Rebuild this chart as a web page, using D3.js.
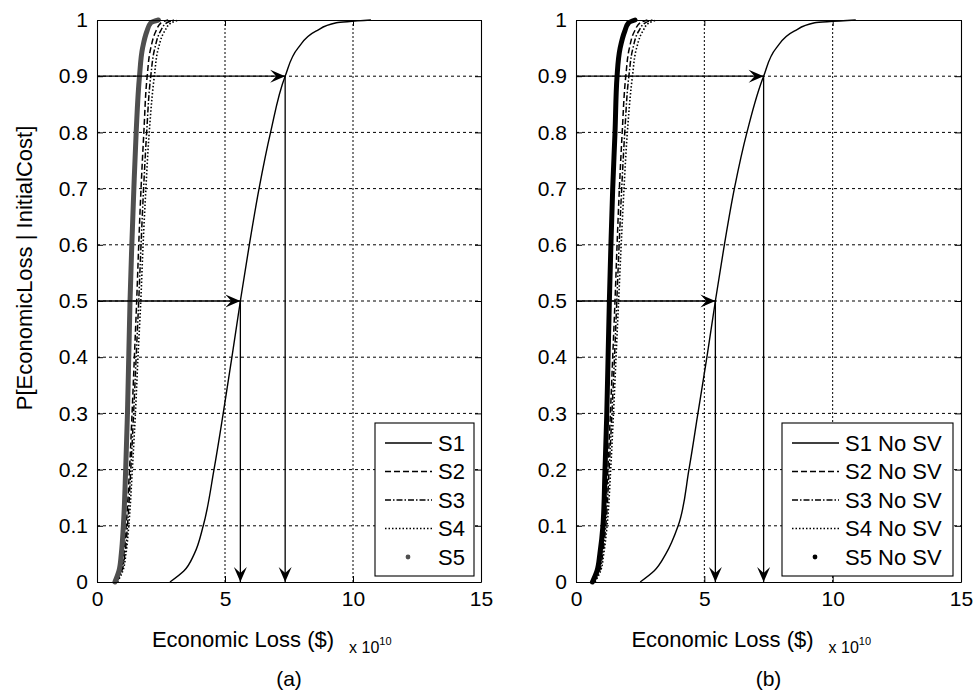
<!DOCTYPE html>
<html>
<head>
<meta charset="utf-8">
<script src="https://cdn.jsdelivr.net/npm/d3@7"></script>
<style>
  body { margin: 0; background: #fff; }
  text { font-family: "Liberation Sans", Arial, sans-serif; fill: #000; }
</style>
</head>
<body>
<svg id="chart" width="975" height="692"></svg>
<script>
// Cumulative probability levels at which each loss curve is sampled
const probLevels = [0, 0.02, 0.05, 0.1, 0.2, 0.3, 0.4, 0.5, 0.6, 0.7, 0.8, 0.9, 0.95, 0.98, 0.995, 1];

// Economic loss (x 10^10 $) reached at each probability level — panel (a)
const lossA_S1 = [2.85, 3.4, 3.8, 4.15, 4.57, 4.93, 5.27, 5.6, 5.95, 6.33, 6.78, 7.35, 7.85, 8.55, 9.35, 10.7];
const lossA_S2 = [0.74, 0.94, 1.05, 1.14, 1.27, 1.37, 1.46, 1.55, 1.63, 1.72, 1.83, 1.96, 2.1, 2.3, 2.5, 2.78];
const lossA_S3 = [0.77, 0.97, 1.09, 1.19, 1.32, 1.43, 1.53, 1.63, 1.72, 1.82, 1.94, 2.1, 2.26, 2.48, 2.72, 3.0];
const lossA_S4 = [0.8, 1.01, 1.13, 1.24, 1.38, 1.5, 1.6, 1.71, 1.8, 1.91, 2.04, 2.24, 2.4, 2.64, 2.9, 3.2];
const lossA_S5 = [0.7, 0.86, 0.95, 1.03, 1.12, 1.19, 1.24, 1.29, 1.36, 1.44, 1.53, 1.66, 1.78, 1.95, 2.1, 2.4];

// Economic loss (x 10^10 $) reached at each probability level — panel (b), no SV
const lossB_S1 = [2.5, 3.05, 3.5, 3.98, 4.4, 4.75, 5.1, 5.43, 5.78, 6.17, 6.66, 7.31, 7.8, 8.5, 9.3, 10.9];
const lossB_S2 = [0.68, 0.88, 1.0, 1.12, 1.24, 1.34, 1.43, 1.52, 1.6, 1.69, 1.8, 1.94, 2.08, 2.28, 2.5, 2.78];
const lossB_S3 = [0.71, 0.92, 1.04, 1.16, 1.29, 1.4, 1.5, 1.59, 1.68, 1.78, 1.9, 2.06, 2.22, 2.44, 2.7, 2.98];
const lossB_S4 = [0.74, 0.96, 1.08, 1.21, 1.35, 1.46, 1.56, 1.66, 1.76, 1.87, 2.0, 2.2, 2.36, 2.6, 2.85, 3.15];
const lossB_S5 = [0.64, 0.82, 0.93, 1.05, 1.13, 1.2, 1.25, 1.3, 1.36, 1.43, 1.52, 1.6, 1.72, 1.9, 2.05, 2.3];

const seriesNamesA = ["S1", "S2", "S3", "S4", "S5"];
const seriesNamesB = ["S1 No SV", "S2 No SV", "S3 No SV", "S4 No SV", "S5 No SV"];

const xTicks = [0, 5, 10, 15];
const xGridValues = [5, 10];
const yTicks = [0, 0.1, 0.2, 0.3, 0.4, 0.5, 0.6, 0.7, 0.8, 0.9, 1];
const yTickLabels = ["0", "0.1", "0.2", "0.3", "0.4", "0.5", "0.6", "0.7", "0.8", "0.9", "1"];
const markedProbs = [0.5, 0.9];

const yAxisTitle = "P[EconomicLoss | InitialCost]";
const xAxisTitle = "Economic Loss ($)";
const panelLabels = ["(a)", "(b)"];

const svg = d3.select("#chart");
svg.append("rect").attr("width", 975).attr("height", 692).attr("fill", "#fff");

// Arrowhead used by the quantile read-off arrows
svg.append("defs").append("marker")
  .attr("id", "arrowHead")
  .attr("viewBox", "-16 -8 18 16")
  .attr("refX", 0).attr("refY", 0)
  .attr("markerWidth", 18).attr("markerHeight", 16)
  .attr("markerUnits", "userSpaceOnUse")
  .attr("orient", "auto")
  .append("path")
  .attr("d", "M0,0 L-15,-6.5 L-9,0 L-15,6.5 Z")
  .attr("fill", "#000");

const styles = [
  { dash: null, width: 1.4 },
  { dash: "6,3", width: 1.5 },
  { dash: "6,2,1.5,2", width: 1.5 },
  { dash: "1.5,2", width: 1.6 },
  { dash: null, width: 5 }
];

const panels = [
  { left: 97, right: 481, series: [lossA_S1, lossA_S2, lossA_S3, lossA_S4, lossA_S5],
    names: seriesNamesA, s5Color: "#4f4f4f", label: panelLabels[0], legendWidth: 99, legendGap: 7, showYTitle: true },
  { left: 576, right: 961, series: [lossB_S1, lossB_S2, lossB_S3, lossB_S4, lossB_S5],
    names: seriesNamesB, s5Color: "#000", label: panelLabels[1], legendWidth: 171, legendGap: 8, showYTitle: false }
];

const plotTop = 20, plotBottom = 582;
const y = d3.scaleLinear().domain([0, 1]).range([plotBottom, plotTop]);
const fontFamily = "Liberation Sans, Arial, sans-serif";

panels.forEach(p => {
  const x = d3.scaleLinear().domain([0, 15]).range([p.left, p.right]);
  const g = svg.append("g");

  // Grid: dashed horizontal lines at every inner y tick, dotted verticals at 5 and 10
  g.append("g").selectAll("line").data(yTicks.filter(v => v > 0 && v < 1)).join("line")
    .attr("x1", p.left).attr("x2", p.right)
    .attr("y1", d => y(d)).attr("y2", d => y(d))
    .attr("stroke", "#000").attr("stroke-width", 1).attr("stroke-dasharray", "3,3");
  g.append("g").selectAll("line").data(xGridValues).join("line")
    .attr("x1", d => x(d)).attr("x2", d => x(d))
    .attr("y1", plotTop).attr("y2", plotBottom)
    .attr("stroke", "#000").attr("stroke-width", 1).attr("stroke-dasharray", "2,2");

  // Loss curves
  const line = d3.line()
    .x(d => x(d[0]))
    .y(d => y(d[1]))
    .curve(d3.curveMonotoneY);
  const order = [1, 2, 3, 0, 4];
  order.forEach(i => {
    const pts = p.series[i].map((v, k) => [v, probLevels[k]]);
    g.append("path")
      .attr("d", line(pts))
      .attr("fill", "none")
      .attr("stroke", i === 4 ? p.s5Color : "#000")
      .attr("stroke-width", styles[i].width)
      .attr("stroke-linecap", i === 4 ? "round" : "butt")
      .attr("stroke-dasharray", styles[i].dash);
  });

  // Read-off arrows for the 50% and 90% quantiles of S1
  markedProbs.forEach(pr => {
    const idx = probLevels.indexOf(pr);
    const q = p.series[0][idx];
    g.append("line")
      .attr("x1", x(0)).attr("y1", y(pr))
      .attr("x2", x(q)).attr("y2", y(pr))
      .attr("stroke", "#000").attr("stroke-width", 1.3)
      .attr("marker-end", "url(#arrowHead)");
    g.append("line")
      .attr("x1", x(q)).attr("y1", y(pr))
      .attr("x2", x(q)).attr("y2", y(0))
      .attr("stroke", "#000").attr("stroke-width", 1.3)
      .attr("marker-end", "url(#arrowHead)");
  });

  // Axes frame with inward ticks
  const tickLen = 6;
  const axL = d3.axisLeft(y).tickValues(yTicks).tickSizeInner(-tickLen).tickSizeOuter(0).tickFormat((d, i) => yTickLabels[i]).tickPadding(9);
  const axR = d3.axisRight(y).tickValues(yTicks).tickSizeInner(-tickLen).tickSizeOuter(0).tickFormat("");
  const axB = d3.axisBottom(x).tickValues(xTicks).tickSizeInner(-tickLen).tickSizeOuter(0).tickFormat(d3.format("d")).tickPadding(9);
  const axT = d3.axisTop(x).tickValues(xTicks).tickSizeInner(-tickLen).tickSizeOuter(0).tickFormat("");

  const gl = g.append("g").attr("transform", `translate(${p.left},0)`).call(axL);
  g.append("g").attr("transform", `translate(${p.right},0)`).call(axR);
  const gb = g.append("g").attr("transform", `translate(0,${plotBottom})`).call(axB);
  g.append("g").attr("transform", `translate(0,${plotTop})`).call(axT);
  g.selectAll(".domain").attr("stroke", "#000").attr("stroke-width", 1.1);
  g.selectAll(".tick line").attr("stroke", "#000");
  gl.selectAll("text").attr("font-size", 21).attr("font-family", fontFamily);
  gb.selectAll("text").attr("font-size", 21).attr("font-family", fontFamily);

  // Legend
  const lgRight = p.right - p.legendGap;
  const lgLeft = lgRight - p.legendWidth;
  const lgTop = 423, lgBottom = 576;
  const lg = g.append("g");
  lg.append("rect")
    .attr("x", lgLeft).attr("y", lgTop)
    .attr("width", lgRight - lgLeft).attr("height", lgBottom - lgTop)
    .attr("fill", "#fff").attr("stroke", "#000").attr("stroke-width", 1.1);
  const rowY = d3.scalePoint().domain(d3.range(5)).range([443, 557]);
  p.names.forEach((name, i) => {
    const ry = rowY(i);
    if (i === 4) {
      lg.append("circle").attr("cx", lgLeft + 33).attr("cy", ry).attr("r", 2.4).attr("fill", p.s5Color);
    } else {
      lg.append("line")
        .attr("x1", lgLeft + 10).attr("x2", lgLeft + 57)
        .attr("y1", ry).attr("y2", ry)
        .attr("stroke", "#000").attr("stroke-width", styles[i].width)
        .attr("stroke-dasharray", styles[i].dash);
    }
    lg.append("text")
      .attr("x", lgLeft + 63).attr("y", ry)
      .attr("dy", "0.36em")
      .attr("font-size", 22)
      .text(name);
  });

  // Axis titles and panel label
  const cx = (p.left + p.right) / 2;
  const xt = g.append("text")
    .attr("x", cx - 46).attr("y", 647)
    .attr("text-anchor", "middle")
    .attr("font-size", 22)
    .text(xAxisTitle);
  const xtEnd = cx - 46 + xt.node().getComputedTextLength() / 2;
  const mult = g.append("text").attr("x", xtEnd + 15).attr("y", 653).attr("font-size", 16);
  mult.append("tspan").text("x 10");
  mult.append("tspan").attr("font-size", 11).attr("dy", -8).text("10");

  g.append("text")
    .attr("x", cx).attr("y", 686)
    .attr("text-anchor", "middle")
    .attr("font-size", 21)
    .text(p.label);

  if (p.showYTitle) {
    g.append("text")
      .attr("transform", `translate(32,268) rotate(-90)`)
      .attr("text-anchor", "middle")
      .attr("font-size", 22)
      .text(yAxisTitle);
  }
});
</script>
</body>
</html>
